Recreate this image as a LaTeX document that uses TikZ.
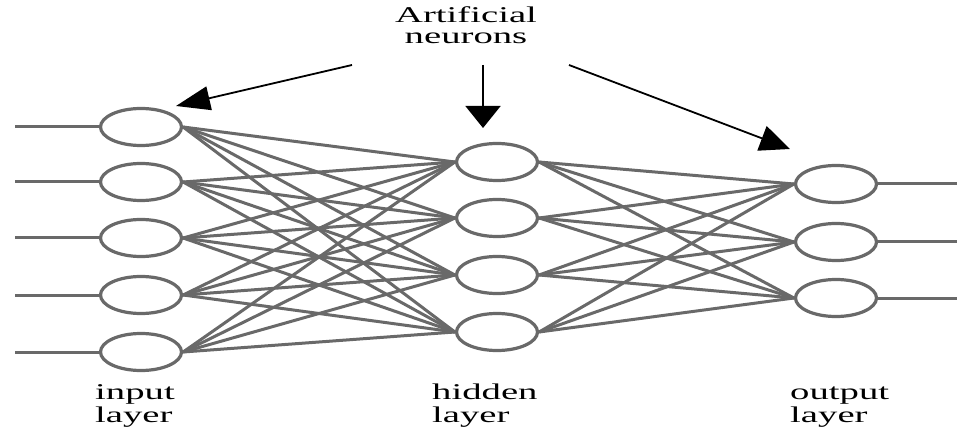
\documentclass[tikz,border=0pt]{standalone}
\usepackage{fontspec}
\setmainfont{Liberation Serif}
\usetikzlibrary{shapes.geometric,arrows.meta}
\pgfdeclarelayer{background}
\pgfsetlayers{background,main}
\definecolor{netgray}{RGB}{105,105,105}
\tikzset{
  neuron/.style={ellipse, draw=netgray, line width=3.2pt, fill=white, minimum width=81pt, minimum height=37pt, inner sep=0pt},
  wire/.style={draw=netgray, line width=3pt},
  pointer/.style={draw=black, line width=1.8pt},
  lbl/.style={inner sep=0pt, font=\fontsize{22.5}{23}\selectfont}
}
\begin{document}
\begin{tikzpicture}[x=1pt,y=-1pt]
\useasboundingbox (0,0) rectangle (957,427);
% neurons
\foreach \i/\y in {1/127,2/182,3/238,4/295,5/352} \node[neuron] (i\i) at (141,\y) {};
\foreach \i/\y in {1/162,2/218,3/275,4/332} \node[neuron] (h\i) at (497,\y) {};
\foreach \i/\y in {1/184,2/242,3/298} \node[neuron] (o\i) at (836,\y) {};
\begin{pgfonlayer}{background}
% inputs and outputs
\foreach \i/\y in {1/127,2/182,3/238,4/295,5/352} {
  \coordinate (in\i) at (15,\y);
  \draw[wire] (in\i) -- (i\i.west);
}
\foreach \i/\y in {1/184,2/242,3/298} {
  \coordinate (out\i) at (957,\y);
  \draw[wire] (o\i.east) -- (out\i);
}
% connections
\foreach \a in {1,...,5} \foreach \b in {1,...,4} \draw[wire] (i\a.east) -- (h\b.west);
\foreach \a in {1,...,4} \foreach \b in {1,...,3} \draw[wire] (h\a.east) -- (o\b.west);
\end{pgfonlayer}
% title and pointers
\node[lbl, anchor=base] (title) at (466,23) {\scalebox{1.72}[1]{\begin{tabular}[t]{@{}c@{}}Artificial\\[-2pt]neurons\end{tabular}}};
\coordinate (s1) at (352,65);
\coordinate (t1) at (176,106);
\coordinate (s2) at (483,65);
\coordinate (t2) at (483,128);
\coordinate (s3) at (569,65);
\coordinate (t3) at (790,149);
\draw[pointer, -{Triangle[length=34pt,width=24pt]}] (s1) -- (t1);
\draw[pointer, -{Triangle[length=22pt,width=35pt]}] (s2) -- (t2);
\draw[pointer, -{Triangle[length=30pt,width=26pt]}] (s3) -- (t3);
% layer labels
\node[lbl, anchor=base west] (linput) at (95,399) {\scalebox{1.72}[1]{\begin{tabular}[t]{@{}l@{}}input\\layer\end{tabular}}};
\node[lbl, anchor=base west] (lhidden) at (432,399) {\scalebox{1.72}[1]{\begin{tabular}[t]{@{}l@{}}hidden\\layer\end{tabular}}};
\node[lbl, anchor=base west] (loutput) at (790,399) {\scalebox{1.72}[1]{\begin{tabular}[t]{@{}l@{}}output\\layer\end{tabular}}};
\end{tikzpicture}
\end{document}
